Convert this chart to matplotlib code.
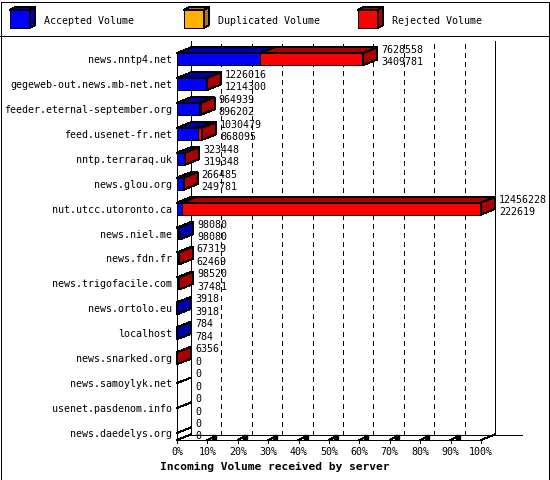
import matplotlib
matplotlib.use('Agg')
import matplotlib.pyplot as plt
from matplotlib.patches import Polygon, Rectangle
from matplotlib.lines import Line2D
from matplotlib.transforms import IdentityTransform

plt.rcParams['lines.scale_dashes'] = False

# ---------------- data ----------------
servers = ['news.nntp4.net', 'gegeweb-out.news.mb-net.net', 'feeder.eternal-september.org',
           'feed.usenet-fr.net', 'nntp.terraraq.uk', 'news.glou.org', 'nut.utcc.utoronto.ca',
           'news.niel.me', 'news.fdn.fr', 'news.trigofacile.com', 'news.ortolo.eu',
           'localhost', 'news.snarked.org', 'news.samoylyk.net', 'usenet.pasdenom.info',
           'news.daedelys.org']
totals = [7628558, 1226016, 964939, 1030479, 323448, 266485, 12456228,
          98080, 67319, 98520, 3918, 784, 6356, 0, 0, 0]
accepted = [3409781, 1214300, 896202, 868095, 319348, 249781, 222619,
            98080, 62469, 37481, 3918, 784, 0, 0, 0, 0]
tick_labels = ['0%', '10%', '20%', '30%', '40%', '50%', '60%', '70%', '80%', '90%', '100%']
legend_labels = ['Accepted Volume', 'Duplicated Volume', 'Rejected Volume']
title = 'Incoming Volume received by server'

# ---------------- style ----------------
W, H, DPI = 550, 480, 100
MONO = 'DejaVu Sans Mono'
FS = 7.2
LW = 0.72
colors = ['#0000FF', '#FFB000', '#FF0000']
darks = ['#0000AA', '#B07800', '#AA0000']
DX, DY = 14, 5.5          # 3D depth in pixels
ID = IdentityTransform()

fig = plt.figure(figsize=(W / DPI, H / DPI), dpi=DPI)
fig.patch.set_facecolor('white')

L, R, B, T = 177, 481, 440, 46
ax = fig.add_axes([L / W, (H - B) / H, (R - L) / W, (B - T) / H])
ax.set_axis_off()
n = len(servers)
vmax = max(totals)
ybot, ytop = n - 1 + 0.283, -0.521
ax.set_xlim(0, vmax)
ax.set_ylim(ybot, ytop)
bh = 0.481


def d(x, y):
    return ax.transData.transform((x, y))


def back(p):
    return (p[0] + DX, p[1] + DY)


def line(pts, **kw):
    xs = [p[0] for p in pts]
    ys = [p[1] for p in pts]
    kw.setdefault('color', 'black')
    kw.setdefault('lw', LW)
    ln = Line2D(xs, ys, transform=ID, antialiased=False, **kw)
    ln.set_clip_on(False)
    ax.add_artist(ln)


def poly(pts, fc, z=3):
    p = Polygon(pts, closed=True, transform=ID, facecolor=fc, edgecolor='black',
                lw=LW, antialiased=False, zorder=z)
    p.set_clip_on(False)
    ax.add_artist(p)


# ---------------- frame & walls ----------------
for xs, ys in (([0.5, W - 1.5], [0.5, 0.5]), ([0.5, W - 1.5], [H - 1.5, H - 1.5]),
               ([0.5, 0.5], [0.5, H - 1.5]), ([W - 1.5, W - 1.5], [0.5, H - 1.5]),
               ([0, W], [H - 35.5, H - 35.5])):
    fig.add_artist(Line2D(xs, ys, transform=ID, color='black', lw=LW, antialiased=False))

bl = back(d(0, ybot))
tl = back(d(0, ytop))
br = back(d(vmax, ybot))
tr = back(d(vmax, ytop))
line([bl, tl])
line([br, tr])
line([bl, (br[0] + 27, br[1])])
for k in range(1, 10):
    xv = vmax * k / 10
    line([back(d(xv, ybot)), back(d(xv, ytop))], ls=(0, (2.9, 2.9)), zorder=1)

# front axis lines
f0 = d(0, ybot)
f1 = d(vmax, ybot)
line([f0, f1])
line([f0, back(f0)])
line([f1, back(f1)])
line([f0, d(0, -bh / 2)])

for k, lab in enumerate(tick_labels):
    xv = vmax * k / 10
    p = d(xv, ybot)
    line([p, (p[0], p[1] - 3)])
    if 0 < k < 10:
        line([(p[0], p[1]), (p[0] + 7, p[1] + 3.5)])
        line([(p[0] + 7, p[1] + 3.5)], marker='s', ms=2.2, mfc='black', mec='black', ls='none')
    ax.text(p[0], H - 452, lab, transform=ID, ha='center', va='center',
            family=MONO, fontsize=FS)

# ---------------- bars ----------------
for i, (name, tot, acc) in enumerate(zip(servers, totals, accepted)):
    ax.annotate(name, xy=(0, i), xytext=(-5, -1), textcoords='offset pixels',
                ha='right', va='center', family=MONO, fontsize=FS)
    segs = [(0, acc, 0), (acc, tot, 2)]
    segs = [s for s in segs if s[1] > s[0]]
    yt, yb = i - bh / 2, i + bh / 2
    if not segs:
        c = d(0, i)
        line([c, back(c)], zorder=3)
    for a, b, ci in segs:
        ax.barh(i, b - a, left=a, height=bh, color=colors[ci], edgecolor='black',
                lw=LW, antialiased=False, zorder=3)
        p1, p2 = d(a, yt), d(b, yt)
        poly([p1, p2, back(p2), back(p1)], darks[ci], z=4)
    if segs:
        last = segs[-1][2]
        q1, q2 = d(tot, yt), d(tot, yb)
        poly([q1, q2, back(q2), back(q1)], darks[last], z=4)
    ax.annotate(str(tot), xy=(tot, i), xytext=(DX + 4, 9), textcoords='offset pixels',
                ha='left', va='center', family=MONO, fontsize=FS, zorder=6)
    ax.annotate(str(acc), xy=(tot, i), xytext=(DX + 4, -3.5), textcoords='offset pixels',
                ha='left', va='center', family=MONO, fontsize=FS, zorder=6)

# ---------------- legend ----------------
for j, lab in enumerate(legend_labels):
    x0 = 10 + 174 * j
    y0, y1 = H - 10, H - 28
    front = [(x0, y0), (x0 + 20, y0), (x0 + 20, y1), (x0, y1)]
    top = [(x0, y0), (x0 + 20, y0), (x0 + 25, y0 + 3), (x0 + 5, y0 + 3)]
    side = [(x0 + 20, y0), (x0 + 25, y0 + 3), (x0 + 25, y1 + 3), (x0 + 20, y1)]
    for pts, fc in ((front, colors[j]), (top, darks[j]), (side, darks[j])):
        p = Polygon(pts, closed=True, transform=ID, facecolor=fc, edgecolor='black',
                    lw=LW, antialiased=False)
        fig.add_artist(p)
    fig.text((x0 + 34) / W, (H - 21) / H, lab, ha='left', va='center',
             family=MONO, fontsize=FS)

fig.text(275 / W, (H - 467) / H, title, ha='center', va='center', family=MONO,
         fontsize=8.1, weight='bold')

fig.savefig('out.png', dpi=DPI)
